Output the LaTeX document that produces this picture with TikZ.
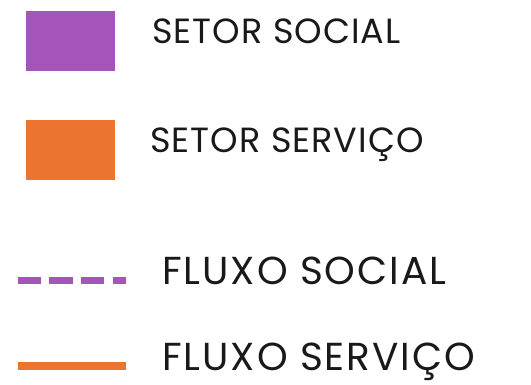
\documentclass[tikz,border=0pt]{standalone}
\usepackage{fontspec}
\setmainfont{Poppins}[LetterSpace=3]
\newfontfamily\flowfont{Poppins}[LetterSpace=5]
\definecolor{socialpurple}{HTML}{A555B9}
\definecolor{serviceorange}{HTML}{EB7430}

\begin{document}
\begin{tikzpicture}[x=1pt,y=-1pt]
			\tikzstyle{sector box}=[rectangle,minimum width=89pt,minimum height=60pt,inner sep=0pt]
			\tikzstyle{legend text}=[anchor=base west,inner sep=0pt,text=black!90]
			\tikzstyle{social flow}=[draw,line width=7.5pt,-,socialpurple,dash pattern=on 23.3pt off 8.3pt]
			\tikzstyle{service flow}=[draw,line width=7.5pt,-,serviceorange]
			
			\useasboundingbox (0,0) rectangle (531,384);
			
			\node[sector box, fill=socialpurple] (b0) at (70.5,41) {};
			\node[sector box, fill=serviceorange] (b1) at (70.5,150) {};
			
			\node[legend text, font=\fontsize{35}{35}\selectfont] (t0) at (152,43) {SETOR SOCIAL};
			\node[legend text, font=\fontsize{35}{35}\selectfont] (t1) at (150,152) {SETOR SERVIÇO};
			\node[legend text, font=\flowfont\fontsize{39}{39}\selectfont] (t2) at (162,284) {FLUXO SOCIAL};
			\node[legend text, font=\flowfont\fontsize{39}{39}\selectfont] (t3) at (162,370) {FLUXO SERVIÇO};
			
			\coordinate (f0) at (17.7,280.5);
			\coordinate (f1) at (125.7,280.5);
			\coordinate (f2) at (17.7,366);
			\coordinate (f3) at (125.7,366);
			
			\draw[social flow] (f0) -- (f1);
			\draw[service flow] (f2) -- (f3);
		\end{tikzpicture}
\end{document}
